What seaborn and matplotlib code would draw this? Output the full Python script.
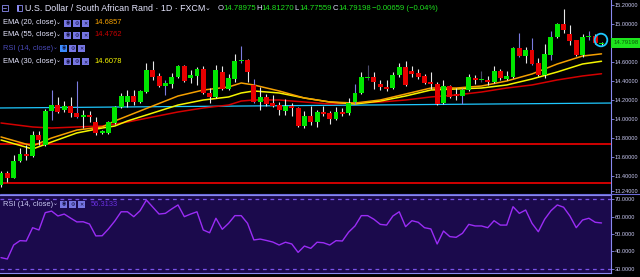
import numpy as np
import matplotlib
matplotlib.use("Agg")
import matplotlib.pyplot as plt
import seaborn as sns
from matplotlib.patches import Rectangle, Circle

# ---------------- data ----------------
opens = [13.305, 13.432, 13.379, 13.558, 13.632, 13.611, 13.832, 13.726, 14.084, 14.147,
         14.095, 14.137, 14.063, 14.021, 14.042, 13.968, 13.853, 13.853, 13.958, 14.126,
         14.179, 14.242, 14.179, 14.284, 14.516, 14.453, 14.347, 14.368, 14.442, 14.558,
         14.432, 14.453, 14.526, 14.274, 14.232, 14.495, 14.316, 14.421, 14.611, 14.621,
         14.358, 14.179, 14.232, 14.168, 14.147, 14.084, 14.137, 14.116, 13.926, 14.032,
         13.968, 14.074, 14.063, 14.000, 14.074, 14.063, 14.179, 14.274, 14.432, 14.442,
         14.368, 14.337, 14.326, 14.463, 14.547, 14.505, 14.484, 14.453, 14.389, 14.368,
         14.168, 14.347, 14.263, 14.242, 14.305, 14.432, 14.411, 14.411, 14.389, 14.505,
         14.421, 14.442, 14.747, 14.663, 14.726, 14.589, 14.463, 14.674, 14.863, 15.000,
         14.895, 14.832, 14.674, 14.863, 14.874, 14.78975]
highs = [13.453, 13.453, 13.621, 13.695, 13.726, 13.874, 13.874, 14.105, 14.305, 14.232,
         14.189, 14.232, 14.400, 14.095, 14.084, 14.021, 13.884, 13.979, 14.137, 14.274,
         14.305, 14.305, 14.305, 14.589, 14.611, 14.484, 14.411, 14.484, 14.568, 14.568,
         14.516, 14.547, 14.558, 14.326, 14.568, 14.558, 14.474, 14.684, 14.768, 14.632,
         14.421, 14.337, 14.263, 14.253, 14.179, 14.211, 14.168, 14.126, 14.084, 14.137,
         14.095, 14.137, 14.084, 14.126, 14.116, 14.221, 14.368, 14.495, 14.568, 14.495,
         14.411, 14.411, 14.495, 14.589, 14.611, 14.558, 14.526, 14.474, 14.495, 14.389,
         14.411, 14.358, 14.326, 14.326, 14.474, 14.463, 14.505, 14.453, 14.558, 14.526,
         14.505, 14.758, 14.905, 14.758, 14.853, 14.642, 14.789, 14.926, 15.011, 15.158,
         14.989, 14.832, 14.895, 14.926, 14.895, 14.8127]
lows = [13.284, 13.337, 13.379, 13.547, 13.568, 13.600, 13.726, 13.716, 13.989, 14.063,
        14.074, 14.021, 14.011, 13.905, 13.968, 13.832, 13.842, 13.842, 13.947, 14.116,
        14.126, 14.147, 14.168, 14.274, 14.411, 14.337, 14.253, 14.326, 14.432, 14.389,
        14.379, 14.358, 14.263, 14.168, 14.221, 14.305, 14.305, 14.389, 14.589, 14.389,
        14.168, 14.095, 14.137, 14.126, 14.042, 14.042, 14.032, 13.916, 13.905, 13.937,
        13.916, 14.032, 13.947, 13.989, 14.032, 14.042, 14.158, 14.263, 14.411, 14.316,
        14.305, 14.295, 14.316, 14.442, 14.347, 14.442, 14.421, 14.368, 14.316, 14.147,
        14.158, 14.221, 14.200, 14.158, 14.295, 14.368, 14.389, 14.358, 14.379, 14.411,
        14.411, 14.432, 14.653, 14.589, 14.568, 14.453, 14.432, 14.621, 14.853, 14.905,
        14.779, 14.663, 14.653, 14.832, 14.789, 14.77559]
closes = [13.432, 13.379, 13.558, 13.632, 13.611, 13.832, 13.779, 14.084, 14.147, 14.074,
          14.137, 14.063, 14.021, 14.042, 14.021, 13.853, 13.874, 13.968, 14.126, 14.242,
          14.242, 14.179, 14.295, 14.516, 14.442, 14.347, 14.379, 14.442, 14.558, 14.400,
          14.463, 14.526, 14.274, 14.232, 14.516, 14.316, 14.432, 14.611, 14.621, 14.495,
          14.179, 14.232, 14.158, 14.137, 14.095, 14.137, 14.116, 13.926, 14.032, 13.968,
          14.074, 14.053, 14.000, 14.074, 14.053, 14.168, 14.274, 14.442, 14.442, 14.389,
          14.337, 14.316, 14.463, 14.547, 14.358, 14.474, 14.442, 14.379, 14.368, 14.158,
          14.347, 14.232, 14.242, 14.305, 14.442, 14.411, 14.411, 14.389, 14.505, 14.432,
          14.453, 14.747, 14.663, 14.726, 14.579, 14.463, 14.684, 14.863, 15.000, 14.937,
          14.821, 14.674, 14.863, 14.874, 14.800, 14.79198]

ema_idx = [0, 5, 8, 12, 16, 18, 20, 24, 28, 32, 36, 38, 40, 44, 48, 52, 56, 60, 64, 68,
           72, 76, 80, 84, 88, 92, 95]
ema20 = [13.811, 13.716, 13.800, 13.884, 13.916, 13.979, 14.032, 14.137, 14.242, 14.305,
         14.337, 14.379, 14.358, 14.295, 14.221, 14.179, 14.168, 14.200, 14.263, 14.326,
         14.326, 14.347, 14.400, 14.474, 14.579, 14.663, 14.6857]
ema30 = [13.779, 13.684, 13.758, 13.853, 13.905, 13.926, 13.979, 14.063, 14.147, 14.200,
         14.232, 14.274, 14.295, 14.274, 14.221, 14.179, 14.158, 14.189, 14.242, 14.305,
         14.316, 14.326, 14.358, 14.421, 14.495, 14.579, 14.6078]
ema55 = [13.958, 13.916, 13.905, 13.916, 13.926, 13.947, 13.968, 14.021, 14.074, 14.116,
         14.147, 14.189, 14.200, 14.200, 14.179, 14.158, 14.168, 14.179, 14.200, 14.232,
         14.253, 14.284, 14.326, 14.358, 14.411, 14.453, 14.4762]

rsi = [36.5, 35.7, 43.7, 46.2, 46.0, 53.6, 52.3, 62.2, 63.1, 60.3,
       61.4, 59.1, 56.9, 57.0, 55.7, 48.9, 49.0, 52.9, 57.4, 62.7,
       62.7, 59.9, 63.3, 69.4, 65.4, 61.4, 61.8, 64.3, 66.6, 59.9,
       61.4, 62.7, 52.3, 50.7, 59.0, 52.7, 56.1, 60.5, 60.5, 56.1,
       46.6, 47.1, 46.3, 45.4, 43.7, 45.3, 44.3, 39.5, 43.1, 41.8,
       45.3, 45.0, 43.7, 46.2, 46.0, 51.1, 54.6, 60.5, 60.5, 58.4,
       55.5, 55.1, 60.3, 62.7, 54.2, 57.6, 56.7, 53.6, 52.9, 44.3,
       51.7, 48.5, 48.1, 50.4, 55.5, 54.6, 54.6, 53.6, 57.6, 55.1,
       55.1, 65.6, 61.8, 63.7, 56.1, 51.3, 58.4, 63.3, 66.6, 65.3,
       60.3, 53.6, 58.0, 59.0, 56.7, 56.3133]

support_levels = [13.742, 13.323]
trend_start, trend_end = 14.116, 14.168
price_ticks = [13.24, 13.4, 13.6, 13.8, 14.0, 14.2, 14.4, 14.6, 14.8, 15.0, 15.2]
price_tick_labels = ["13.24000", "13.40000", "13.60000", "13.80000", "14.00000", "14.20000",
                     "14.40000", "14.60000", "", "15.00000", "15.20000"]
rsi_ticks = [30, 40, 50, 60, 70]
rsi_tick_labels = ["30.0000", "40.0000", "50.0000", "60.0000", "70.0000"]
rsi_bands = [70, 30]
month_ticks = [10, 19, 30, 40, 50, 62, 70, 77, 85, 95]
blue_wicks = [8, 12, 26, 38, 40, 56, 73, 82, 84, 87, 93]
dark_wicks = [58, 76]

title = "U.S. Dollar / South African Rand · 1D · FXCM"
ohlc_labels = ["O", "H", "L", "C"]
ohlc_values = ["14.78975", "14.81270", "14.77559", "14.79198"]
change_text = "−0.00659 (−0.04%)"
legend_rows = [("EMA (20, close)", "14.6857"), ("EMA (55, close)", "14.4762"),
               ("RSI (14, close)", ""), ("EMA (30, close)", "14.6078")]
rsi_legend = ("RSI (14, close)", "56.3133")
last_price = "14.79198"

# ---------------- style ----------------
sns.set_style("dark", {"axes.facecolor": "black", "figure.facecolor": "black"})
plt.rcParams["font.family"] = ["Liberation Sans Narrow", "Liberation Sans", "DejaVu Sans"]

W, H = 640, 277
fig = plt.figure(figsize=(W / 100, H / 100), dpi=100, facecolor="black")


def px_axes(x0, y0, x1, y1):
    return fig.add_axes([x0 / W, 1 - y1 / H, (x1 - x0) / W, (y1 - y0) / H])


LAV = "#8a8af0"
TXT = "#c9c9f2"
XMIN, XMAX = -0.16, 96.5

# ---------------- main price panel ----------------
ax = px_axes(0, 0, 611, 194)
ax.set_facecolor("black")
n = len(opens)
idx = np.arange(n)
o, h, l, c = (np.array(v) for v in (opens, highs, lows, closes))
up = c >= o
body_bot = np.minimum(o, c)
body_h = np.maximum(np.abs(c - o), 0.011)
body_col = np.where(up, "#00e600", "#e60000")
wick_col = ["#e8e8e8"] * n
for i in blue_wicks:
    wick_col[i] = "#7c7ce0"
for i in dark_wicks:
    wick_col[i] = "#4a4a6a"

for lvl in support_levels:
    ax.axhline(lvl, color="#e00000", lw=1.3, zorder=1)
ax.plot([XMIN, XMAX], [trend_start, trend_end], color="#1ec8ff", lw=0.9, zorder=1)

sns.lineplot(x=ema_idx, y=ema55, ax=ax, color="#d40000", lw=1.1, zorder=2, sort=False)
sns.lineplot(x=ema_idx, y=ema30, ax=ax, color="#f5f500", lw=1.1, zorder=2, sort=False)
sns.lineplot(x=ema_idx, y=ema20, ax=ax, color="#f5a000", lw=1.1, zorder=2, sort=False)

ax.vlines(idx, l, h, colors=wick_col, lw=0.8, zorder=3)
ax.bar(idx, body_h, bottom=body_bot, width=0.78, color=body_col, lw=0, zorder=4)

ax.set_xlim(XMIN, XMAX)
ax.set_ylim(13.2105, 15.2526)
ax.yaxis.tick_right()
ax.set_yticks(price_ticks)
ax.set_yticklabels(price_tick_labels)
ax.set_xticks([])
ax.tick_params(axis="y", colors=LAV, labelcolor=TXT, labelsize=4.1, length=2, width=0.6, pad=0.8)
for s in ["top", "left", "bottom"]:
    ax.spines[s].set_visible(False)
ax.spines["right"].set_color(LAV)
ax.spines["right"].set_linewidth(0.8)
ax.grid(False)

# ---------------- RSI panel ----------------
axr = px_axes(0, 195, 611, 273)
axr.set_facecolor("#1b0a4c")
for b in rsi_bands:
    axr.axhline(b, color="#7a52e8", lw=0.9, ls=(0, (3, 3)), zorder=1)
sns.lineplot(x=idx, y=rsi, ax=axr, color="#9a2cf5", lw=1.0, zorder=2)
axr.set_xlim(XMIN, XMAX)
axr.set_ylim(27.71, 72.29)
axr.yaxis.tick_right()
axr.set_yticks(rsi_ticks)
axr.set_yticklabels(rsi_tick_labels)
axr.set_xticks(month_ticks)
axr.set_xticklabels([])
axr.tick_params(axis="y", colors=LAV, labelcolor=TXT, labelsize=4.1, length=2, width=0.6, pad=0.8)
axr.tick_params(axis="x", colors=LAV, length=2, width=0.6)
axr.spines["left"].set_visible(False)
for s in ["right", "bottom", "top"]:
    axr.spines[s].set_color(LAV)
    axr.spines[s].set_linewidth(0.8)
axr.set_xlabel("")
axr.set_ylabel("")
axr.grid(False)

# ---------------- overlay (header, legend, decorations) ----------------
ov = fig.add_axes([0, 0, 1, 1])
ov.set_xlim(0, W)
ov.set_ylim(H, 0)
ov.axis("off")
ov.patch.set_alpha(0)

ov.plot([0, W], [194, 194], color="#6a6ad8", lw=0.8)

# header
ov.add_patch(Rectangle((1.5, 5), 6, 6, fill=False, ec=LAV, lw=0.6))
ov.plot([3, 6], [8, 8], color=LAV, lw=0.6)
ov.add_patch(Rectangle((16.5, 5), 5, 6, fill=False, ec=LAV, lw=0.6))
ov.add_patch(Rectangle((16.5, 5), 2.5, 6, fc=LAV, ec="none"))
ov.text(25, 8.5, title, color="#e6e6ff", fontsize=6.4, va="center", ha="left")
ov.text(205, 7.5, "⌄", color="#e6e6ff", fontsize=5, va="center", ha="left",
        family=["DejaVu Sans"])
for lab, val, x in zip(ohlc_labels, ohlc_values, [218, 256, 294, 333]):
    ov.text(x, 8.5, lab, color="#e0e0ff", fontsize=5.6, va="center", ha="left")
    ov.text(x + 5.5, 8.5, val, color="#1ee01e", fontsize=5.6, va="center", ha="left")
ov.text(372, 8.5, change_text, color="#1ee01e", fontsize=5.6, va="center", ha="left")


def icons(x0, y, hi_first=False):
    syms = ["◉", "⚙", "✕"]
    for k in range(3):
        x = x0 + k * 9
        fc = "#3b8cff" if (hi_first and k == 0) else "#7676e2"
        ov.add_patch(Rectangle((x, y - 3.5), 7, 7, fc=fc, ec="none"))
        ov.text(x + 3.5, y + 0.2, syms[k], color="#121040", fontsize=3.6,
                va="center", ha="center", family=["DejaVu Sans"])


row_y = [23, 35, 48, 61.5]
val_cols = ["#f5a000", "#c80000", None, "#f5f500"]
for (name, val), y, vc in zip(legend_rows, row_y, val_cols):
    is_rsi = name.startswith("RSI")
    tc = "#4a4ab8" if is_rsi else "#e6e6ff"
    ov.text(3, y, name, color=tc, fontsize=5.4, va="center", ha="left")
    ov.text(53 if is_rsi else 56, y - 0.8, "⌄", color=tc, fontsize=4.2, va="center",
            ha="left", family=["DejaVu Sans"])
    icons(60 if is_rsi else 64, y, hi_first=is_rsi)
    if val:
        ov.text(94, y, val, color=vc, fontsize=5.4, va="center", ha="left")

# RSI legend
ov.text(3, 204, rsi_legend[0], color="#c9c9f2", fontsize=5.4, va="center", ha="left")
ov.text(53, 203.2, "⌄", color="#c9c9f2", fontsize=4.2, va="center", ha="left",
        family=["DejaVu Sans"])
icons(60, 204)
ov.text(91, 204, rsi_legend[1], color="#6a30e0", fontsize=5.4, va="center", ha="left")

# last price marker
ov.add_patch(Rectangle((611, 38), 29, 10, fc="#1ee61e", ec="none"))
ov.text(613.5, 43, last_price, color="#0a5a0a", fontsize=4.3, va="center", ha="left")
ov.add_patch(Circle((601, 40), 6.3, fill=False, ec="#1ec8ff", lw=1.3))

fig.savefig("out.png", dpi=100, facecolor="black")
